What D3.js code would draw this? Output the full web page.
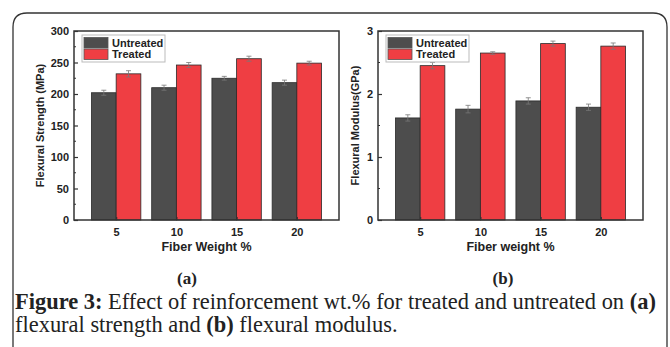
<!DOCTYPE html>
<html>
<head>
<meta charset="utf-8">
<script src="https://cdn.jsdelivr.net/npm/d3@7"></script>
<style>
  body { margin: 0; background: #fff; }
  svg { display: block; }
  .tick-label { font-family: "Liberation Sans", Arial, sans-serif; font-weight: bold; font-size: 11px; fill: #222; }
  .axis-title { font-family: "Liberation Sans", Arial, sans-serif; font-weight: bold; font-size: 11px; fill: #222; }
</style>
</head>
<body>
<div id="figure"></div>
<script>
const svgWidth = 670
const svgHeight = 347

// data
const fiberWeights = ["5", "10", "15", "20"]
const seriesNames = ["Untreated", "Treated"]

const strengthUntreated = [202, 210, 225, 218]
const strengthTreated = [232, 246, 256, 249]
const strengthUntreatedErr = [4, 4, 3, 4]
const strengthTreatedErr = [5, 4, 4, 3]
const strengthTicks = [0, 50, 100, 150, 200, 250, 300]

const modulusUntreated = [1.62, 1.76, 1.89, 1.79]
const modulusTreated = [2.45, 2.65, 2.80, 2.76]
const modulusUntreatedErr = [0.05, 0.06, 0.05, 0.05]
const modulusTreatedErr = [0.05, 0.02, 0.04, 0.05]
const modulusTicks = [0, 1, 2, 3]

const colors = { Untreated: "#4d4d4d", Treated: "#ef3e43" }

let svg = d3
  .select("#figure")
  .append("svg")
  .attr("width", svgWidth)
  .attr("height", svgHeight)

// card outline with rounded top corners
svg.append("path")
  .attr("d", "M13,360 L13,27 Q13,13 27,13 L653,13 Q667,13 667,27 L667,360")
  .attr("fill", "none")
  .attr("stroke", "#333")
  .attr("stroke-width", 1.3)

/**
 * Draws one grouped bar panel.
 **/
function drawPanel(cfg) {
  let x = d3.scaleBand()
    .domain(fiberWeights)
    .range([cfg.left, cfg.right])
    .paddingInner(0.18)
    .paddingOuter(0.29)

  let xSub = d3.scaleBand()
    .domain(seriesNames)
    .range([0, x.bandwidth()])

  let y = d3.scaleLinear()
    .domain(cfg.domain)
    .range([220, 31])

  let g = svg.append("g")

  let rows = fiberWeights.map((w, i) => ({
    w: w,
    vals: [
      { s: "Untreated", v: cfg.untreated[i], e: cfg.untreatedErr[i] },
      { s: "Treated", v: cfg.treated[i], e: cfg.treatedErr[i] }
    ]
  }))

  let groups = g.selectAll("g.group")
    .data(rows)
    .enter()
    .append("g")
    .attr("class", "group")
    .attr("transform", d => `translate(${x(d.w)},0)`)

  groups.selectAll("rect")
    .data(d => d.vals)
    .enter()
    .append("rect")
    .attr("x", d => xSub(d.s))
    .attr("y", d => y(d.v))
    .attr("width", xSub.bandwidth())
    .attr("height", d => y(cfg.domain[0]) - y(d.v))
    .attr("fill", d => colors[d.s])
    .attr("stroke", "#2a2a2a")
    .attr("stroke-width", 0.8)

  // error bars
  let err = groups.selectAll("g.err")
    .data(d => d.vals)
    .enter()
    .append("g")
    .attr("class", "err")
    .attr("stroke", "#777")
    .attr("stroke-width", 0.8)
  err.append("line")
    .attr("x1", d => xSub(d.s) + xSub.bandwidth() / 2)
    .attr("x2", d => xSub(d.s) + xSub.bandwidth() / 2)
    .attr("y1", d => y(d.v - d.e))
    .attr("y2", d => y(d.v + d.e))
  err.selectAll("line.cap")
    .data(d => [d.v - d.e, d.v + d.e].map(v => ({ s: d.s, v: v })))
    .enter()
    .append("line")
    .attr("class", "cap")
    .attr("x1", d => xSub(d.s) + xSub.bandwidth() / 2 - 2.5)
    .attr("x2", d => xSub(d.s) + xSub.bandwidth() / 2 + 2.5)
    .attr("y1", d => y(d.v))
    .attr("y2", d => y(d.v))

  // frame
  g.append("rect")
    .attr("x", cfg.left)
    .attr("y", 31)
    .attr("width", cfg.right - cfg.left)
    .attr("height", 189)
    .attr("fill", "none")
    .attr("stroke", "#333")
    .attr("stroke-width", 1.5)

  // y ticks (inward, with minor ticks)
  let yAxis = d3.axisLeft(y)
    .tickValues(cfg.ticks)
    .tickFormat(d3.format("d"))
    .tickSizeInner(-4)
    .tickSizeOuter(0)
    .tickPadding(5)
  let ya = g.append("g")
    .attr("transform", `translate(${cfg.left},0)`)
    .call(yAxis)
  ya.select(".domain").remove()
  ya.selectAll("line").attr("stroke", "#333").attr("stroke-width", 1.2)
  ya.selectAll("text").attr("class", "tick-label").attr("font-family", null).attr("font-size", null)

  let minor = d3.pairs(cfg.ticks).map(p => (p[0] + p[1]) / 2)
  g.selectAll("line.minor")
    .data(minor)
    .enter()
    .append("line")
    .attr("class", "minor")
    .attr("x1", cfg.left)
    .attr("x2", cfg.left + 2)
    .attr("y1", d => y(d))
    .attr("y2", d => y(d))
    .attr("stroke", "#333")
    .attr("stroke-width", 1)

  // x ticks
  let xAxis = d3.axisBottom(d3.scalePoint().domain(fiberWeights).range([x(fiberWeights[0]) + x.bandwidth() / 2, x(fiberWeights[3]) + x.bandwidth() / 2]))
    .tickSizeInner(-3)
    .tickSizeOuter(0)
    .tickPadding(8)
  let xa = g.append("g")
    .attr("transform", "translate(0,220)")
    .call(xAxis)
  xa.select(".domain").remove()
  xa.selectAll("line").attr("stroke", "#333").attr("stroke-width", 1.2)
  xa.selectAll("text").attr("class", "tick-label").attr("font-family", null).attr("font-size", null)

  // axis titles
  g.append("text")
    .attr("class", "axis-title")
    .attr("transform", `translate(${cfg.titleX},125.5) rotate(-90)`)
    .attr("text-anchor", "middle")
    .attr("dy", "0.35em")
    .text(cfg.yTitle)

  g.append("text")
    .attr("class", "axis-title")
    .attr("x", (cfg.left + cfg.right) / 2)
    .attr("y", 251)
    .attr("text-anchor", "middle")
    .style("font-size", "12.5px")
    .text(cfg.xTitle)

  // legend
  let lg = g.append("g").attr("transform", `translate(${cfg.left + 8},35)`)
  lg.append("rect")
    .attr("width", 83)
    .attr("height", 27)
    .attr("fill", "#fff")
    .attr("stroke", "#bbb")
    .attr("stroke-width", 1)
  seriesNames.forEach((s, i) => {
    lg.append("rect")
      .attr("x", 2)
      .attr("y", 2.5 + i * 11.5)
      .attr("width", 24)
      .attr("height", 10.5)
      .attr("fill", colors[s])
      .attr("stroke", "#555")
      .attr("stroke-width", 0.8)
    lg.append("text")
      .attr("class", "tick-label")
      .attr("x", 30)
      .attr("y", 7.75 + i * 11.5)
      .attr("dy", "0.35em")
      .text(s)
  })

  // panel letter
  svg.append("text")
    .attr("x", cfg.letterX)
    .attr("y", 284)
    .attr("text-anchor", "middle")
    .style("font-family", "'Liberation Serif', 'DejaVu Serif', serif")
    .style("font-weight", "bold")
    .style("font-size", "17px")
    .attr("fill", "#222")
    .text(cfg.letter)
}

drawPanel({
  left: 74, right: 339, domain: [0, 300], ticks: strengthTicks,
  untreated: strengthUntreated, treated: strengthTreated,
  untreatedErr: strengthUntreatedErr, treatedErr: strengthTreatedErr,
  yTitle: "Flexural Strength (MPa)", xTitle: "Fiber Weight %",
  titleX: 40, letter: "(a)", letterX: 187
})

drawPanel({
  left: 378, right: 643, domain: [0, 3], ticks: modulusTicks,
  untreated: modulusUntreated, treated: modulusTreated,
  untreatedErr: modulusUntreatedErr, treatedErr: modulusTreatedErr,
  yTitle: "Flexural Modulus(GPa)", xTitle: "Fiber weight %",
  titleX: 355, letter: "(b)", letterX: 503
})

// caption
let caption = svg.append("g")
  .style("font-family", "'Liberation Serif', 'DejaVu Serif', serif")
  .style("font-size", "21px")
  .attr("fill", "#222")

let line1 = caption.append("text").attr("x", 15).attr("y", 309)
line1.append("tspan").style("font-weight", "bold").text("Figure 3:")
line1.append("tspan").text(" Effect of reinforcement wt.% for treated and untreated on ")
line1.append("tspan").style("font-weight", "bold").text("(a)")

let line2 = caption.append("text").attr("x", 15).attr("y", 332)
line2.append("tspan").text("flexural strength and ")
line2.append("tspan").style("font-weight", "bold").text("(b)")
line2.append("tspan").text(" flexural modulus.")

// fit the font size so the first line spans the card
let w1 = line1.node().getComputedTextLength()
caption.style("font-size", (21 * 641 / w1).toFixed(2) + "px")
</script>
</body>
</html>
